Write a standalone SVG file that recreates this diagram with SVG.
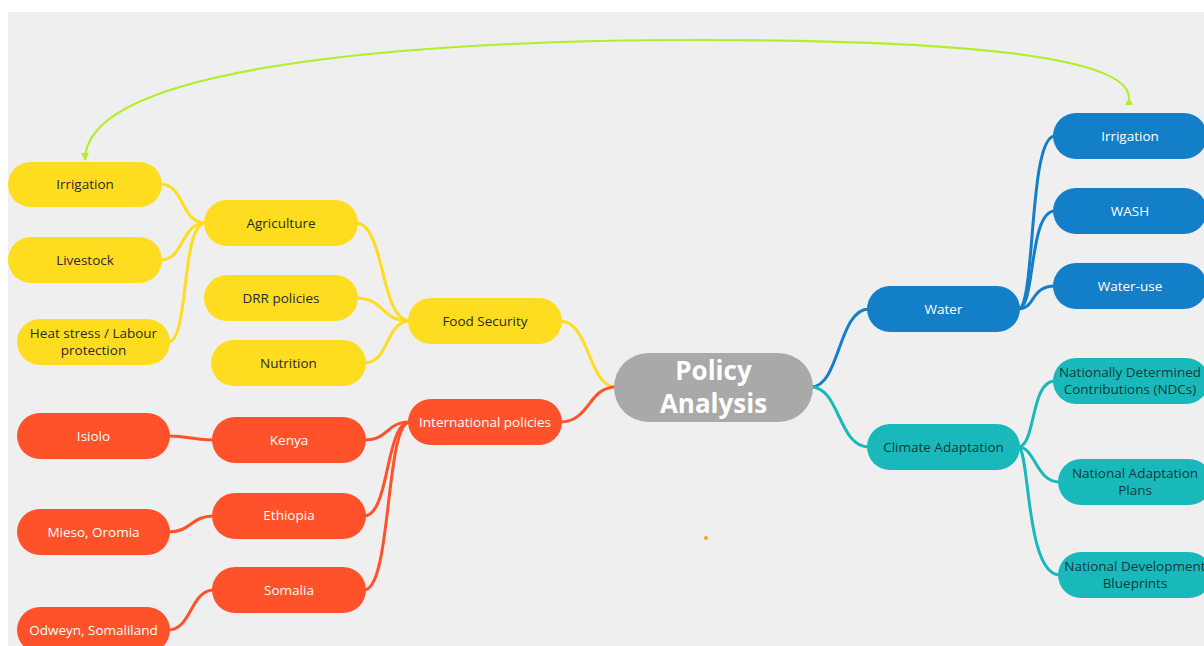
<svg xmlns="http://www.w3.org/2000/svg" width="1204" height="646" viewBox="0 0 1204 646">
<defs>
<style>
.n{stroke:none}
.y{fill:#fedd21}
.r{fill:#ff512a}
.b{fill:#137fc9}
.t{fill:#19b9bb}
.c{fill:#a9a9a9}
text{font-family:"Open Sans","Noto Sans","Liberation Sans",sans-serif;font-size:13.5px;text-anchor:middle}
.dk{fill:#2a2a2a}
.tk{fill:#123a3a}
.wt{fill:#ffffff}
.ctr{font-size:26px;font-weight:bold;fill:#ffffff}
.ly{fill:none;stroke:#fedd21;stroke-width:3}
.lr{fill:none;stroke:#ff512a;stroke-width:3}
.lb{fill:none;stroke:#137fc9;stroke-width:3}
.lt{fill:none;stroke:#19b9bb;stroke-width:3}
.lg{fill:none;stroke:#b3ee2c;stroke-width:2.2}
</style>
<marker id="ah" viewBox="0 0 10 10" refX="9" refY="5" markerWidth="8" markerHeight="8" orient="auto" markerUnits="userSpaceOnUse">
<path d="M0,0 L10,5 L0,10 Z" fill="#b3ee2c"/>
</marker>
</defs>
<rect x="0" y="0" width="1204" height="646" fill="#ffffff"/>
<rect x="8" y="12" width="1196" height="634" fill="#efefef"/>
<g id="connectors">
<path class="ly" d="M160,184 C185,184 180,223 206,223"/>
<path class="ly" d="M160,260 C185,260 180,223 206,223"/>
<path class="ly" d="M168,342 C190,342 180,223 206,223"/>
<path class="ly" d="M356,223 C385,223 380,321 410,321"/>
<path class="ly" d="M356,298 C385,298 380,321 410,321"/>
<path class="ly" d="M364,363 C390,363 385,321 410,321"/>
<path class="ly" d="M560,321 C590,321 588,387 616,387"/>
<path class="lr" d="M560,422 C590,422 588,387 616,387"/>
<path class="lr" d="M364,440 C390,440 385,422 410,422"/>
<path class="lr" d="M364,516 C390,516 385,422 410,422"/>
<path class="lr" d="M364,590 C392,590 385,422 410,422"/>
<path class="lr" d="M168,436 C190,436 192,440 214,440"/>
<path class="lr" d="M168,532 C192,532 190,516 214,516"/>
<path class="lr" d="M168,630 C192,630 190,590 214,590"/>
<path class="lb" d="M811,387 C840,387 838,309 869,309"/>
<path class="lt" d="M811,387 C840,387 838,447 869,447"/>
<path class="lb" d="M1018,309 C1036,309 1028,136 1055,136"/>
<path class="lb" d="M1018,309 C1036,309 1028,211 1055,211"/>
<path class="lb" d="M1018,309 C1036,309 1030,286 1055,286"/>
<path class="lt" d="M1018,447 C1036,447 1030,381 1055,381"/>
<path class="lt" d="M1018,447 C1036,447 1035,482 1060,482"/>
<path class="lt" d="M1018,447 C1030,447 1025,575 1060,575"/>
<path class="lg" d="M1129,98 C1129,55 950,40 700,40 C450,40 85,60 85,160" marker-start="url(#ah)" marker-end="url(#ah)"/>
</g>
<g id="node-center"><rect class="n c" x="614" y="353" width="199" height="69" rx="34.5"/><text class="ctr" x="713.5" y="380">Policy</text><text class="ctr" x="713.5" y="413">Analysis</text></g>
<g id="node-food-security"><rect class="n y" x="408" y="298" width="154" height="46" rx="23"/><text class="dk" x="485" y="326">Food Security</text></g>
<g id="node-agriculture"><rect class="n y" x="204" y="200" width="154" height="46" rx="23"/><text class="dk" x="281" y="228">Agriculture</text></g>
<g id="node-drr"><rect class="n y" x="204" y="275" width="154" height="46" rx="23"/><text class="dk" x="281" y="303">DRR policies</text></g>
<g id="node-nutrition"><rect class="n y" x="211" y="340" width="155" height="46" rx="23"/><text class="dk" x="288.5" y="368">Nutrition</text></g>
<g id="node-irrigation-l"><rect class="n y" x="8" y="162" width="154" height="45" rx="22.5"/><text class="dk" x="85" y="189">Irrigation</text></g>
<g id="node-livestock"><rect class="n y" x="8" y="237" width="154" height="46" rx="23"/><text class="dk" x="85" y="265">Livestock</text></g>
<g id="node-heat"><rect class="n y" x="17" y="319" width="153" height="46" rx="23"/><text class="dk" x="93.5" y="338">Heat stress / Labour</text><text class="dk" x="93.5" y="355">protection</text></g>
<g id="node-intl"><rect class="n r" x="408" y="399" width="154" height="46" rx="23"/><text class="wt" x="485" y="427">International policies</text></g>
<g id="node-kenya"><rect class="n r" x="212" y="417" width="154" height="46" rx="23"/><text class="wt" x="289" y="445">Kenya</text></g>
<g id="node-ethiopia"><rect class="n r" x="212" y="493" width="154" height="46" rx="23"/><text class="wt" x="289" y="520">Ethiopia</text></g>
<g id="node-somalia"><rect class="n r" x="212" y="567" width="154" height="46" rx="23"/><text class="wt" x="289" y="595">Somalia</text></g>
<g id="node-isiolo"><rect class="n r" x="17" y="413" width="153" height="46" rx="23"/><text class="wt" x="93.5" y="441">Isiolo</text></g>
<g id="node-mieso"><rect class="n r" x="17" y="509" width="153" height="46" rx="23"/><text class="wt" x="93.5" y="537">Mieso, Oromia</text></g>
<g id="node-odweyn"><rect class="n r" x="17" y="607" width="153" height="46" rx="23"/><text class="wt" x="93.5" y="635">Odweyn, Somaliland</text></g>
<g id="node-water"><rect class="n b" x="867" y="286" width="153" height="46" rx="23"/><text class="wt" x="943.5" y="314">Water</text></g>
<g id="node-irrigation-r"><rect class="n b" x="1053" y="113" width="154" height="46" rx="23"/><text class="wt" x="1130" y="141">Irrigation</text></g>
<g id="node-wash"><rect class="n b" x="1053" y="188" width="154" height="46" rx="23"/><text class="wt" x="1130" y="216">WASH</text></g>
<g id="node-water-use"><rect class="n b" x="1053" y="263" width="154" height="46" rx="23"/><text class="wt" x="1130" y="291">Water-use</text></g>
<g id="node-climate"><rect class="n t" x="867" y="424" width="153" height="46" rx="23"/><text class="tk" x="943.5" y="452">Climate Adaptation</text></g>
<g id="node-ndc"><rect class="n t" x="1053" y="358" width="156" height="46" rx="23"/><text class="tk" x="1130" y="377">Nationally Determined</text><text class="tk" x="1130" y="394">Contributions (NDCs)</text></g>
<g id="node-nap"><rect class="n t" x="1058" y="459" width="154" height="46" rx="23"/><text class="tk" x="1135" y="478">National Adaptation</text><text class="tk" x="1135" y="495">Plans</text></g>
<g id="node-ndb"><rect class="n t" x="1058" y="552" width="154" height="46" rx="23"/><text class="tk" x="1135" y="571">National Development</text><text class="tk" x="1135" y="588">Blueprints</text></g>
<circle cx="706" cy="538" r="2" fill="#f5a623"/>
</svg>
